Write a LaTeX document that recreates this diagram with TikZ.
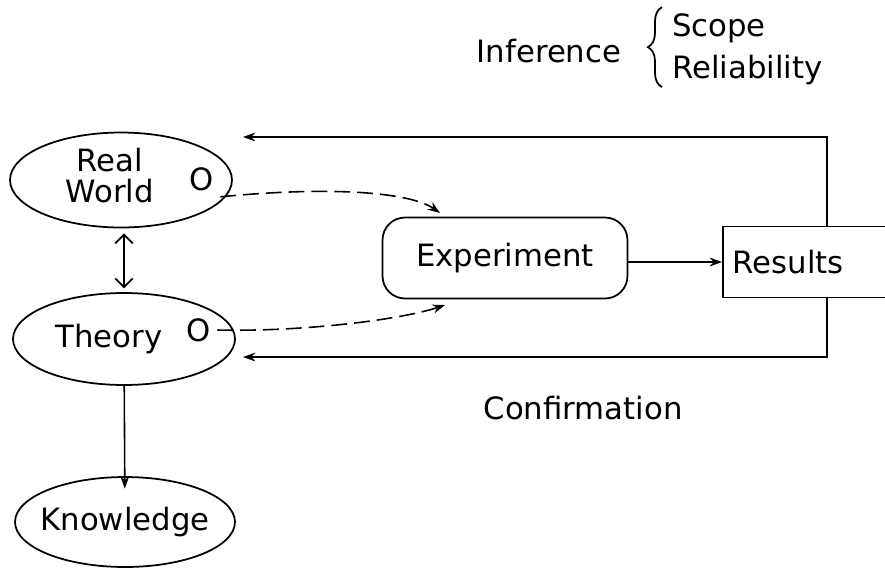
\documentclass[tikz,border=0pt]{standalone}
\usepackage{fontspec}
\setmainfont{DejaVu Sans}
\usepackage{tikz}
\usetikzlibrary{shapes.geometric, positioning, arrows.meta, decorations.pathreplacing}

\tikzset{
    every node/.style={font=\fontsize{17.5}{20}\selectfont},
    blob/.style={draw, ellipse, line width=1pt, align=center, inner sep=0pt},
    tip/.style={-{Stealth[length=7pt, width=5pt]}, line width=0.9pt},
}

\begin{document}
\begin{tikzpicture}[x=0.02cm, y=-0.02cm]
    \useasboundingbox (0,0) rectangle (885,569);
    \node[blob, minimum width=4.44cm, minimum height=1.9cm] (rw) at (121,180) {\makebox[0pt]{\begin{tabular}{@{}c@{}}Real\\[-2pt]World\end{tabular}\hspace{0.45cm}}};
    \node (rwo) at (202,179) {O};
    \node[blob, minimum width=4.44cm, minimum height=1.84cm] (th) at (124,339) {\makebox[0pt]{Theory\hspace{0.6cm}}};
    \node (tho) at (199,330) {O};
    \node[blob, minimum width=4.4cm, minimum height=1.8cm] (kn) at (125,522) {\makebox[0pt]{Knowledge}};
    \node[draw, rounded corners=0.45cm, line width=1pt, minimum width=4.9cm, minimum height=1.62cm] (exp) at (505,258) {Experiment};
    \node[draw, line width=1pt, anchor=west, text width=3.2cm, inner sep=0.2cm, minimum height=1.42cm] (res) at (722,262) {Results};
    \node (conf) at (583,408) {Confirmation};
    \node (inf) at (549,51) {Inference};
    \node[anchor=west] (scope) at (666,28) {Scope};
    \node[anchor=west] (rel) at (666,70) {Reliability};
    \draw[decorate, decoration={brace, amplitude=8pt}, line width=1pt] (scope.west |- rel.south) ++(-4,-4) coordinate (bra) -- (bra |- scope.north) ++(0,4);

    \coordinate (upturn) at (827,137);
    \coordinate (upend) at (243,137);
    \coordinate (downturn) at (827,357);
    \coordinate (downend) at (243,357);

    \draw[{Straight Barb[length=5pt]}-{Straight Barb[length=5pt]}, line width=1pt] (rw.south) ++(3,5) -- ++(0,55);
    \draw[tip, shorten >=-0.25cm] (th) -- (kn);
    \draw[tip] (exp.east |- res) -- (res.west);
    \draw[tip] (res.north -| upturn) -- (upturn) -- (upend);
    \draw[tip] (res.south -| downturn) -- (downturn) -- (downend);
    \draw[tip, dashed, dash pattern=on 9pt off 4pt] (rwo.south east) .. controls (330,186) and (410,192) .. (440,213);
    \draw[tip, dashed, dash pattern=on 9pt off 4pt] (tho.east) .. controls (300,332) and (400,320) .. (445,305);
\end{tikzpicture}
\end{document}
